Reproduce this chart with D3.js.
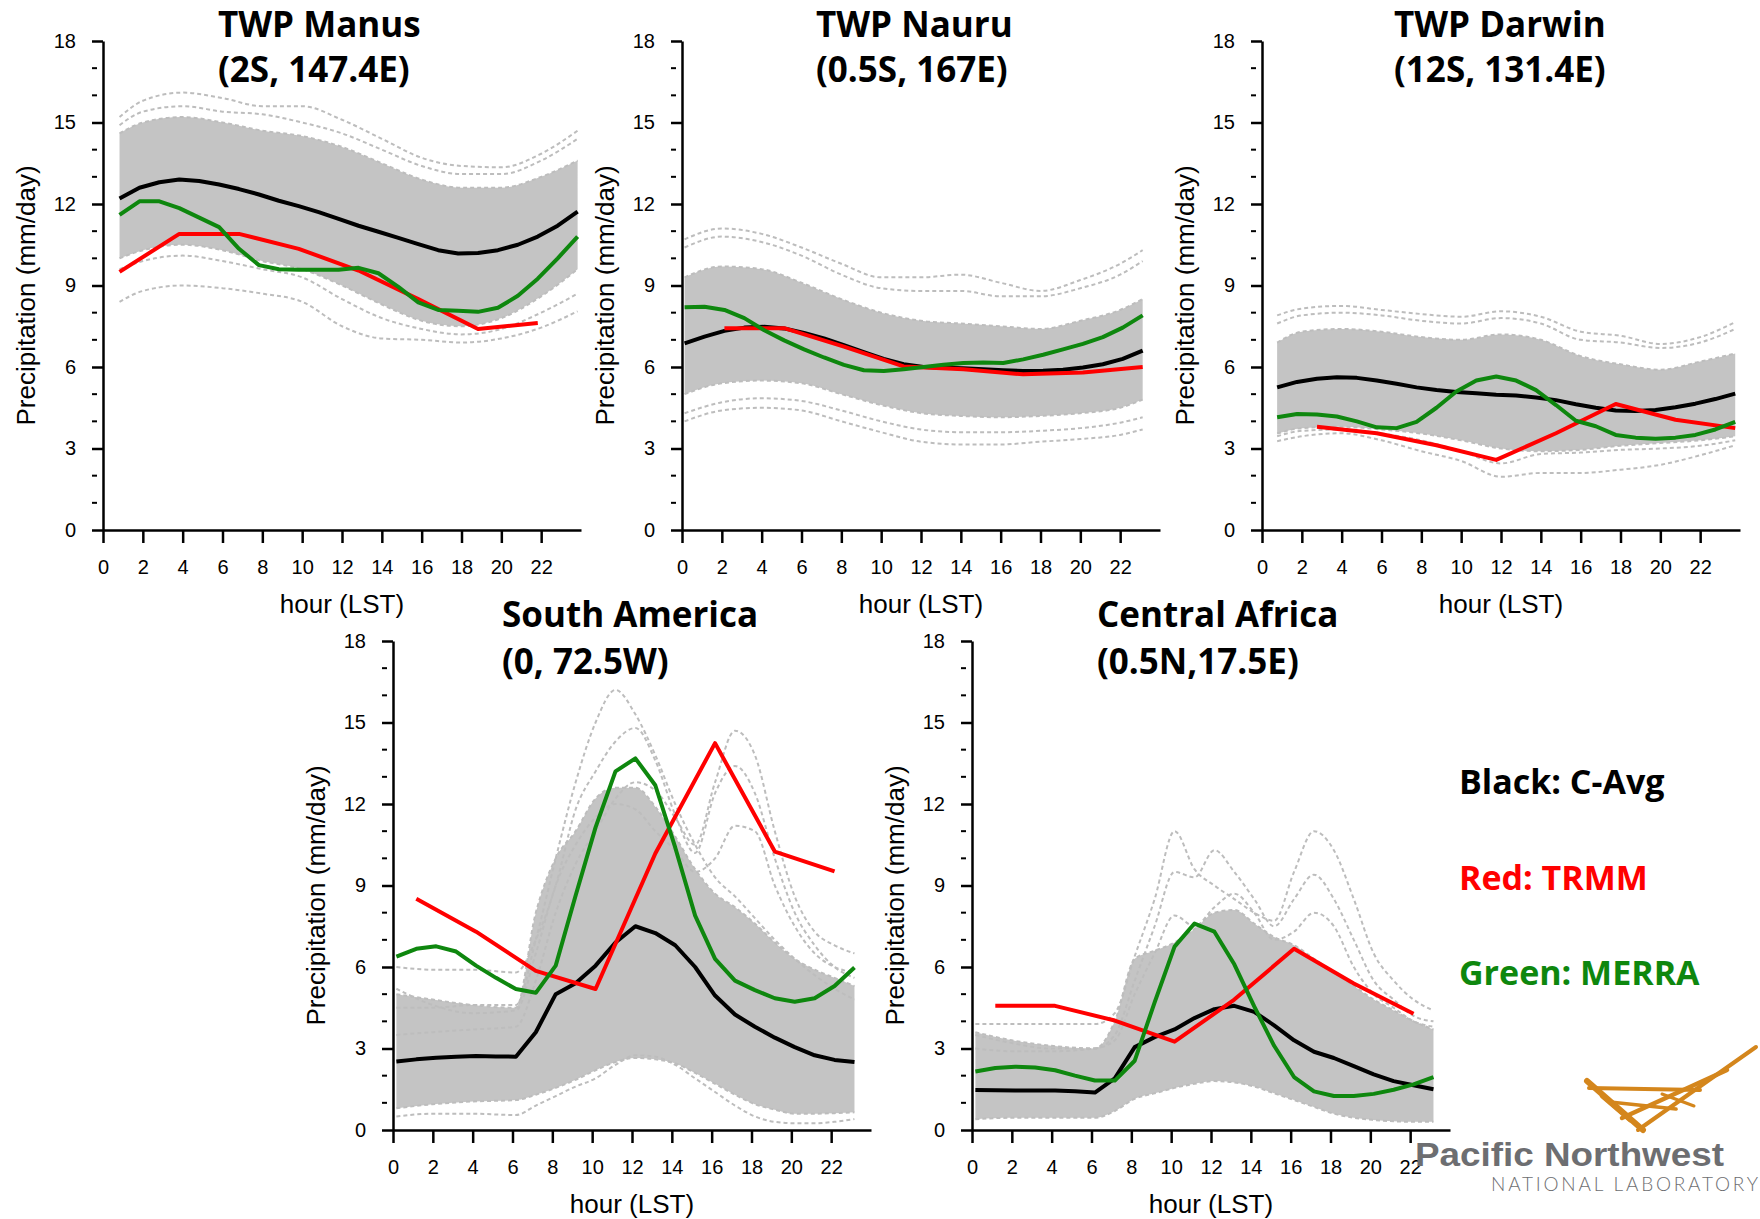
<!DOCTYPE html>
<html>
<head>
<meta charset="utf-8">
<script src="https://cdn.jsdelivr.net/npm/d3@7"></script>
<style>
  body { margin: 0; background: #fff; }
</style>
</head>
<body>
<div id="chart"></div>
<script>
// ---- data (precipitation, mm/day, vs local hour) ----

// model hours (LST) for each site
var manusHours  = [0.83,1.83,2.83,3.83,4.83,5.83,6.83,7.83,8.83,9.83,10.83,11.83,12.83,13.83,14.83,15.83,16.83,17.83,18.83,19.83,20.83,21.83,22.83,23.83];
var nauruHours  = [0.13,1.13,2.13,3.13,4.13,5.13,6.13,7.13,8.13,9.13,10.13,11.13,12.13,13.13,14.13,15.13,16.13,17.13,18.13,19.13,20.13,21.13,22.13,23.13];
var darwinHours = [0.76,1.76,2.76,3.76,4.76,5.76,6.76,7.76,8.76,9.76,10.76,11.76,12.76,13.76,14.76,15.76,16.76,17.76,18.76,19.76,20.76,21.76,22.76,23.76];
var saHours     = [0.17,1.17,2.17,3.17,4.17,5.17,6.17,7.17,8.17,9.17,10.17,11.17,12.17,13.17,14.17,15.17,16.17,17.17,18.17,19.17,20.17,21.17,22.17,23.17];
var caHours     = saHours;

// TRMM is 3-hourly
var manusTrmmHours  = [0.83,3.83,6.83,9.83,12.83,15.83,18.83,21.83];
var nauruTrmmHours  = [2.13,5.13,8.13,11.13,14.13,17.13,20.13,23.13];
var darwinTrmmHours = [2.76,5.76,8.76,11.76,14.76,17.76,20.76,23.76];
var saTrmmHours     = [1.17,4.17,7.17,10.17,13.17,16.17,19.17,22.17];
var caTrmmHours     = saTrmmHours;

// Black: C-Avg
var manusCavg  = [12.2,12.6,12.8,12.9,12.85,12.72,12.55,12.35,12.12,11.92,11.7,11.45,11.2,10.98,10.75,10.52,10.3,10.18,10.2,10.3,10.5,10.8,11.2,11.72];
var nauruCavg  = [6.87,7.12,7.33,7.45,7.48,7.42,7.25,7.05,6.8,6.55,6.3,6.1,6.0,5.97,5.95,5.92,5.88,5.85,5.86,5.9,5.98,6.1,6.3,6.6];
var darwinCavg = [5.25,5.45,5.57,5.62,5.6,5.5,5.38,5.25,5.15,5.08,5.03,4.98,4.95,4.88,4.78,4.63,4.5,4.4,4.38,4.42,4.52,4.65,4.82,5.02];
var saCavg     = [2.52,2.6,2.66,2.7,2.72,2.71,2.7,3.6,5.0,5.4,6.05,6.9,7.5,7.25,6.8,6.0,4.95,4.25,3.8,3.4,3.05,2.75,2.58,2.5];
var caCavg     = [1.47,1.46,1.45,1.45,1.45,1.43,1.38,1.9,3.05,3.42,3.7,4.12,4.45,4.57,4.35,3.85,3.3,2.88,2.65,2.35,2.05,1.8,1.65,1.5];

// Green: MERRA
var manusMerra  = [11.6,12.1,12.1,11.85,11.5,11.15,10.35,9.75,9.6,9.58,9.58,9.58,9.65,9.45,8.95,8.38,8.1,8.07,8.03,8.18,8.62,9.25,10.0,10.8];
var nauruMerra  = [8.2,8.22,8.1,7.8,7.35,6.98,6.65,6.35,6.08,5.88,5.85,5.92,6.0,6.08,6.15,6.17,6.15,6.28,6.45,6.65,6.85,7.1,7.45,7.9];
var darwinMerra = [4.15,4.27,4.25,4.18,4.0,3.78,3.75,3.98,4.5,5.1,5.5,5.65,5.5,5.15,4.6,4.02,3.82,3.5,3.4,3.36,3.4,3.5,3.7,3.98];
var saMerra     = [6.38,6.67,6.76,6.57,6.05,5.6,5.19,5.05,6.05,8.63,11.14,13.2,13.68,12.69,10.4,7.89,6.3,5.5,5.15,4.85,4.72,4.85,5.3,5.98];
var caMerra     = [2.15,2.28,2.33,2.3,2.2,2.0,1.82,1.82,2.55,4.7,6.75,7.6,7.3,6.1,4.55,3.1,1.95,1.42,1.25,1.25,1.33,1.48,1.68,1.95];

// Red: TRMM
var manusTrmm  = [9.5,10.9,10.9,10.35,9.55,8.5,7.4,7.62];
var nauruTrmm  = [7.43,7.43,6.75,6.02,5.92,5.73,5.8,6.0];
var darwinTrmm = [3.8,3.56,3.12,2.58,3.56,4.64,4.06,3.75];
var saTrmm     = [8.51,7.3,5.86,5.19,10.18,14.24,10.25,9.52];
var caTrmm     = [4.57,4.57,4.03,3.25,4.8,6.67,5.39,4.28];

// grey ensemble: dense core (low/high) and the members that stand out of it
var manusGrayHours  = [0.83,2,4,6,8,10,12,14,16,18,20,22,23.83];
var manusBandLow    = [10.0,10.3,10.5,10.3,9.9,9.6,9.0,8.3,7.7,7.5,7.8,8.6,9.6];
var manusBandHigh   = [14.6,15.0,15.2,15.0,14.7,14.5,14.1,13.5,12.9,12.6,12.6,13.0,13.6];
var manusMembers = [
  [15.2,15.8,16.1,15.9,15.6,15.6,15.1,14.4,13.7,13.4,13.35,13.85,14.7],
  [14.9,15.4,15.6,15.4,15.3,15.0,14.6,14.0,13.4,13.1,13.1,13.6,14.4],
  [9.6,9.9,10.1,9.9,9.6,9.3,8.5,7.8,7.4,7.2,7.4,8.0,8.7],
  [8.4,8.8,9.0,8.9,8.7,8.4,7.5,7.05,7.0,6.9,7.05,7.45,8.05]
];

var nauruGrayHours = [0.13,2,4,6,8,10,12,14,16,18,20,22,23.13];
var nauruBandLow   = [5.0,5.4,5.5,5.4,5.0,4.6,4.3,4.2,4.15,4.2,4.3,4.5,4.8];
var nauruBandHigh  = [9.3,9.7,9.6,9.1,8.5,8.0,7.7,7.6,7.5,7.4,7.7,8.1,8.5];
var nauruMembers = [
  [10.7,11.1,10.9,10.4,9.8,9.3,9.3,9.4,9.1,8.8,9.2,9.8,10.3],
  [10.4,10.8,10.6,10.1,9.4,8.9,8.8,8.8,8.6,8.6,8.9,9.4,9.9],
  [4.3,4.7,4.85,4.75,4.4,4.0,3.7,3.6,3.6,3.65,3.75,3.95,4.15],
  [4.0,4.4,4.5,4.4,4.0,3.6,3.25,3.15,3.15,3.25,3.35,3.5,3.7]
];

var darwinGrayHours = [0.76,2,4,6,8,10,12,14,16,18,20,22,23.76];
var darwinBandLow   = [3.55,3.75,3.8,3.7,3.55,3.3,3.0,2.9,2.95,3.1,3.2,3.3,3.45];
var darwinBandHigh  = [6.9,7.3,7.4,7.3,7.1,7.0,7.2,7.0,6.4,6.1,5.9,6.2,6.5];
var darwinMembers = [
  [7.9,8.15,8.25,8.1,7.95,7.85,8.05,7.85,7.3,7.15,6.85,7.1,7.65],
  [7.6,7.9,8.0,7.9,7.7,7.6,7.8,7.6,7.0,6.9,6.7,6.9,7.4],
  [3.45,3.65,3.7,3.55,3.3,2.9,2.45,2.8,2.85,2.95,3.0,3.1,3.3],
  [3.27,3.45,3.56,3.3,2.9,2.54,1.96,2.1,2.1,2.22,2.4,2.75,3.12]
];

var saGrayHours = [0.17,2,4,6.17,7.17,8.17,9.17,10.17,11.17,12.17,13.17,14.17,15.17,16.17,17.17,18.17,19.17,20.17,21.17,22.17,23.17];
var saBandLow   = [0.8,0.95,1.05,1.1,1.3,1.55,1.85,2.2,2.5,2.65,2.6,2.45,2.1,1.7,1.3,0.95,0.75,0.6,0.6,0.62,0.65];
var saBandHigh  = [5.0,4.8,4.6,4.5,8.0,10.0,11.0,12.2,12.6,12.6,11.9,10.8,9.6,8.7,8.2,7.6,6.9,6.3,5.9,5.6,5.3];
var saMembers = [
  [4.5,4.5,4.6,4.6,7.0,10.0,12.8,15.0,16.2,15.3,13.8,12.0,10.5,9.3,8.6,7.8,7.0,6.3,5.7,5.2,4.8],
  [3.5,3.6,3.7,3.8,5.5,8.0,9.8,11.0,12.2,12.8,12.5,11.5,10.5,12.8,14.7,13.8,11.0,8.6,7.3,6.8,6.5],
  [6.0,5.9,5.9,5.8,7.0,9.0,11.8,13.2,14.3,14.8,13.6,11.6,10.2,12.4,13.4,12.4,10.0,8.0,6.8,6.0,5.6],
  [5.2,4.6,4.3,4.4,6.5,9.0,10.5,11.5,12.0,11.8,11.0,10.3,9.5,10.0,11.2,11.0,9.0,7.5,6.5,6.0,5.8],
  [0.5,0.6,0.6,0.55,0.9,1.25,1.6,1.9,2.4,2.75,2.7,2.4,1.9,1.4,0.9,0.5,0.3,0.25,0.25,0.3,0.4]
];

var caGrayHours = saGrayHours;
var caBandLow   = [0.4,0.45,0.45,0.45,0.7,1.15,1.35,1.55,1.7,1.8,1.75,1.6,1.35,1.1,0.85,0.6,0.45,0.37,0.32,0.3,0.3];
var caBandHigh  = [3.6,3.3,3.1,3.0,4.0,6.3,6.6,6.9,7.4,8.0,8.1,7.6,7.1,6.8,6.3,5.8,5.3,4.8,4.4,4.0,3.7];
var caMembers = [
  [3.9,3.9,3.9,3.9,4.3,6.4,8.5,11.0,9.6,9.0,8.5,8.0,7.7,9.5,11.0,10.3,8.5,6.5,5.5,4.8,4.4],
  [3.5,3.2,3.0,3.0,3.5,5.5,7.5,9.5,9.3,10.3,9.5,8.5,7.5,8.5,9.4,8.5,7.0,5.5,4.8,4.2,4.0],
  [3.0,2.9,2.9,3.0,3.3,5.0,6.5,7.9,7.5,8.2,8.7,8.0,7.0,7.3,8.0,7.5,6.0,5.0,4.5,4.0,3.8]
];

var panelTitles = [
  ["TWP Manus", "(2S, 147.4E)"],
  ["TWP Nauru", "(0.5S, 167E)"],
  ["TWP Darwin", "(12S, 131.4E)"],
  ["South America", "(0, 72.5W)"],
  ["Central Africa", "(0.5N,17.5E)"]
];

var xTicks = [0,2,4,6,8,10,12,14,16,18,20,22];
var yTicks = [0,3,6,9,12,15,18];
var yMinor = [1,2,4,5,7,8,10,11,13,14,16,17];

var legendLabels = ["Black: C-Avg", "Red: TRMM", "Green: MERRA"];
var legendColors = ["#000000", "#ff0000", "#0e870e"];

// ---- layout ----
var plotW = 478, plotH = 489;
var layout = [
  { x0: 103,  top: 41,  titleX: 218,  t1: 37,  t2: 82 },
  { x0: 682,  top: 41,  titleX: 816,  t1: 37,  t2: 82 },
  { x0: 1262, top: 41,  titleX: 1394, t1: 37,  t2: 82 },
  { x0: 393,  top: 641, titleX: 502,  t1: 627, t2: 674 },
  { x0: 972,  top: 641, titleX: 1097, t1: 627, t2: 674 }
];

var panels = [
  { hours: manusHours,  cavg: manusCavg,  merra: manusMerra,  trmmHours: manusTrmmHours,  trmm: manusTrmm,
    grayHours: manusGrayHours,  low: manusBandLow,  high: manusBandHigh,  members: manusMembers },
  { hours: nauruHours,  cavg: nauruCavg,  merra: nauruMerra,  trmmHours: nauruTrmmHours,  trmm: nauruTrmm,
    grayHours: nauruGrayHours,  low: nauruBandLow,  high: nauruBandHigh,  members: nauruMembers },
  { hours: darwinHours, cavg: darwinCavg, merra: darwinMerra, trmmHours: darwinTrmmHours, trmm: darwinTrmm,
    grayHours: darwinGrayHours, low: darwinBandLow, high: darwinBandHigh, members: darwinMembers },
  { hours: saHours,     cavg: saCavg,     merra: saMerra,     trmmHours: saTrmmHours,     trmm: saTrmm,
    grayHours: saGrayHours,     low: saBandLow,     high: saBandHigh,     members: saMembers },
  { hours: caHours,     cavg: caCavg,     merra: caMerra,     trmmHours: caTrmmHours,     trmm: caTrmm,
    grayHours: caGrayHours,     low: caBandLow,     high: caBandHigh,     members: caMembers }
];

var svg = d3.select("#chart")
    .append("svg")
    .attr("width", 1760)
    .attr("height", 1219)
    .style("font-family", "'Liberation Sans', Arial, sans-serif");

var x = d3.scaleLinear().domain([0, 24]).range([0, plotW]);
var y = d3.scaleLinear().domain([0, 18]).range([plotH, 0]);

panels.forEach(function (p, k) {
    var L = layout[k];
    var g = svg.append("g").attr("transform", "translate(" + L.x0 + "," + L.top + ")");

    // grey ensemble core
    var band = d3.area()
        .x(function (d, i) { return x(p.grayHours[i]); })
        .y0(function (d) { return y(d[0]); })
        .y1(function (d) { return y(d[1]); })
        .curve(d3.curveMonotoneX);
    g.append("path")
        .datum(d3.zip(p.low, p.high))
        .attr("d", band)
        .attr("fill", "#c4c4c4");

    // grey members (dashed), including the edges of the core
    var grayLine = d3.line()
        .x(function (d, i) { return x(p.grayHours[i]); })
        .y(function (d) { return y(d); })
        .curve(d3.curveMonotoneX);
    g.selectAll(".member")
        .data(p.members.concat([p.low, p.high]))
        .enter()
        .append("path")
        .attr("d", grayLine)
        .attr("fill", "none")
        .attr("stroke", "#bdbdbd")
        .attr("stroke-width", 2)
        .attr("stroke-dasharray", "4,3");

    // black / green hourly, red 3-hourly
    function series(hrs, vals, color) {
        var line = d3.line()
            .x(function (d, i) { return x(hrs[i]); })
            .y(function (d) { return y(d); });
        g.append("path")
            .datum(vals)
            .attr("d", line)
            .attr("fill", "none")
            .attr("stroke", color)
            .attr("stroke-width", 4)
            .attr("stroke-linejoin", "round");
    }
    series(p.hours, p.cavg, "#000000");
    series(p.trmmHours, p.trmm, "#ff0000");
    series(p.hours, p.merra, "#0e870e");

    // axes
    var xAxis = g.append("g")
        .attr("transform", "translate(0," + plotH + ")")
        .call(d3.axisBottom(x).tickValues(xTicks).tickSize(13).tickSizeOuter(0).tickPadding(17));
    var yAxis = g.append("g")
        .call(d3.axisLeft(y).tickValues(yTicks).tickSize(11).tickSizeOuter(0).tickPadding(16));
    [xAxis, yAxis].forEach(function (a) {
        a.select(".domain").attr("stroke-width", 2.5);
        a.selectAll(".tick line").attr("stroke-width", 2.5);
        a.selectAll(".tick text")
            .style("font-family", "'Liberation Sans', Arial, sans-serif")
            .style("font-size", "20px")
            .attr("fill", "#000");
    });

    // minor y ticks sit at the outer end of the major tick length
    g.selectAll(".minor")
        .data(yMinor)
        .enter()
        .append("line")
        .attr("x1", -11).attr("x2", -6)
        .attr("y1", function (d) { return y(d); })
        .attr("y2", function (d) { return y(d); })
        .attr("stroke", "#000")
        .attr("stroke-width", 2);

    // axis titles
    g.append("text")
        .attr("transform", "translate(-68," + (plotH / 2 + 10) + ") rotate(-90)")
        .attr("text-anchor", "middle")
        .style("font-size", "26px")
        .text("Precipitation (mm/day)");
    g.append("text")
        .attr("x", plotW / 2)
        .attr("y", plotH + 83)
        .attr("text-anchor", "middle")
        .style("font-size", "26px")
        .text("hour (LST)");

    // panel title, two lines, left aligned
    var t = svg.append("text")
        .style("font-family", "'Open Sans', 'Noto Sans', sans-serif")
        .style("font-weight", "700")
        .style("font-size", "35px");
    t.append("tspan").attr("x", L.titleX).attr("y", L.t1).text(panelTitles[k][0]);
    t.append("tspan").attr("x", L.titleX).attr("y", L.t2).text(panelTitles[k][1]);
});

// legend text block
svg.selectAll(".legend")
    .data(legendLabels)
    .enter()
    .append("text")
    .attr("x", 1459)
    .attr("y", function (d, i) { return 794 + i * 95.5; })
    .attr("fill", function (d, i) { return legendColors[i]; })
    .style("font-family", "'Open Sans', 'Noto Sans', sans-serif")
    .style("font-weight", "700")
    .style("font-size", "34px")
    .text(function (d) { return d; });

// PNNL logo
var logo = svg.append("g");
var strokes = [
    [[1587, 1081], [1643, 1130], 6],
    [[1638, 1130], [1756, 1047], 4],
    [[1589, 1088], [1700, 1090], 4],
    [[1610, 1102], [1676, 1109], 3.5],
    [[1622, 1118], [1727, 1070], 4.5],
    [[1602, 1096], [1630, 1120], 4.5],
    [[1662, 1094], [1694, 1106], 3]
];
strokes.forEach(function (s) {
    logo.append("line")
        .attr("x1", s[0][0]).attr("y1", s[0][1])
        .attr("x2", s[1][0]).attr("y2", s[1][1])
        .attr("stroke", "#d4861c")
        .attr("stroke-width", s[2])
        .attr("stroke-linecap", "round");
});
logo.append("text")
    .attr("x", 1415).attr("y", 1166)
    .attr("textLength", 309)
    .attr("lengthAdjust", "spacingAndGlyphs")
    .attr("fill", "#6d6e71")
    .style("font-family", "'Liberation Sans', Arial, sans-serif")
    .style("font-weight", "700")
    .style("font-size", "34px")
    .text("Pacific Northwest");
logo.append("text")
    .attr("x", 1491).attr("y", 1191)
    .attr("textLength", 267)
    .attr("fill", "#6d6e71")
    .style("font-family", "Lato, 'Liberation Sans', sans-serif")
    .style("font-weight", "300")
    .style("font-size", "19px")
    .text("NATIONAL LABORATORY");
</script>
</body>
</html>
